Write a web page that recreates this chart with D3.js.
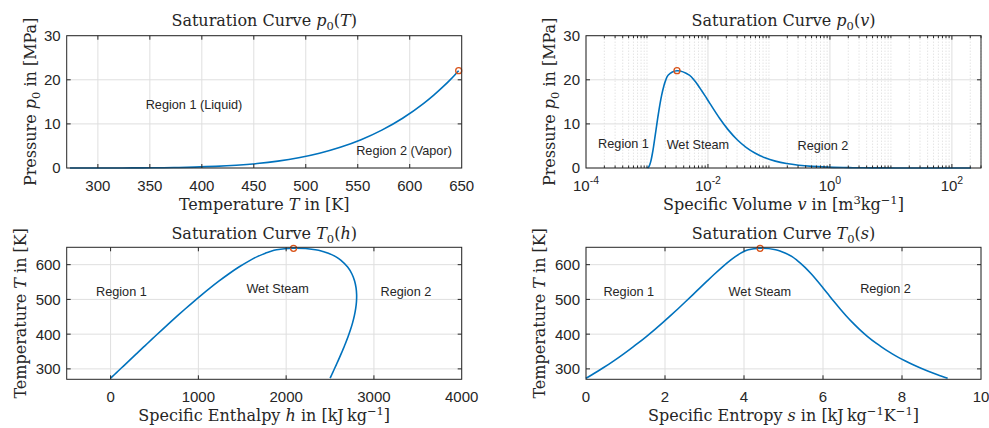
<!DOCTYPE html>
<html>
<head>
<meta charset="utf-8">
<script src="https://cdn.jsdelivr.net/npm/d3@7"></script>
<style>
  body { margin: 0; background: #fff; }
  svg text { fill: #262626; }
  .tick-label { font-family: "Liberation Sans", Arial, sans-serif; font-size: 15px; }
  .tex { font-family: "DejaVu Serif", "Liberation Serif", serif; font-size: 16px; }
  .note { font-family: "Liberation Sans", Arial, sans-serif; font-size: 12.7px; }
</style>
</head>
<body>
<div id="fig"></div>
<script>
// saturation line of water (steam tables), T in K
const satT = [273.16, 283.15, 293.15, 303.15, 313.15, 323.15, 333.15, 343.15, 353.15, 363.15,
  373.15, 393.15, 413.15, 433.15, 453.15, 473.15, 493.15, 513.15, 533.15, 553.15,
  573.15, 593.15, 613.15, 623.15, 633.15, 638.15, 643.15, 647.096];
// pressure in MPa
const satP = [0.000612, 0.001228, 0.002339, 0.004247, 0.007385, 0.012352, 0.019947, 0.031202, 0.047416, 0.070183,
  0.10142, 0.19867, 0.36153, 0.61823, 1.0028, 1.5549, 2.3196, 3.3469, 4.6923, 6.4166,
  8.5879, 11.284, 14.601, 16.529, 18.666, 19.822, 21.044, 22.064];
// specific volume, liquid / vapour, m3/kg
const satVf = [0.001000, 0.001000, 0.001002, 0.001004, 0.001008, 0.001012, 0.001017, 0.001023, 0.001029, 0.001036,
  0.001043, 0.001060, 0.001080, 0.001102, 0.001127, 0.001157, 0.001190, 0.001229, 0.001276, 0.001332,
  0.001404, 0.001499, 0.001638, 0.001741, 0.001895, 0.002016, 0.002217, 0.003106];
const satVg = [206.00, 106.32, 57.762, 32.879, 19.515, 12.026, 7.6670, 5.0396, 3.4053, 2.3593,
  1.6720, 0.89133, 0.50850, 0.30706, 0.19384, 0.12721, 0.08609, 0.05974, 0.04218, 0.03017,
  0.02167, 0.01549, 0.01080, 0.008806, 0.006950, 0.006009, 0.004953, 0.003106];
// specific enthalpy, kJ/kg
const satHf = [0.001, 42.02, 83.91, 125.74, 167.53, 209.34, 251.18, 293.07, 335.02, 377.04,
  419.17, 503.81, 589.16, 675.47, 763.05, 852.26, 943.55, 1037.5, 1134.8, 1236.7,
  1344.8, 1461.7, 1594.5, 1670.9, 1764.2, 1817.8, 1890.7, 2084.3];
const satHg = [2500.9, 2519.2, 2537.4, 2555.6, 2573.5, 2591.3, 2608.8, 2626.1, 2643.0, 2659.6,
  2675.6, 2706.0, 2733.5, 2757.5, 2777.2, 2792.0, 2801.1, 2803.0, 2796.6, 2779.9,
  2749.6, 2700.6, 2621.8, 2563.6, 2481.0, 2420.0, 2334.5, 2084.3];
// specific entropy, kJ/(kg K)
const satSf = [0.0000, 0.1511, 0.2965, 0.4368, 0.5724, 0.7038, 0.8313, 0.9551, 1.0756, 1.1929,
  1.3072, 1.5279, 1.7392, 1.9426, 2.1392, 2.3305, 2.5177, 2.7020, 2.8849, 3.0685,
  3.2552, 3.4494, 3.6601, 3.7800, 3.9167, 4.0014, 4.1112, 4.4070];
const satSg = [9.1556, 8.8999, 8.6661, 8.4520, 8.2556, 8.0748, 7.9082, 7.7540, 7.6111, 7.4781,
  7.3541, 7.1292, 6.9294, 6.7491, 6.5841, 6.4302, 6.2840, 6.1423, 6.0016, 5.8579,
  5.7059, 5.5372, 5.3356, 5.2177, 5.0536, 4.9412, 4.8012, 4.4070];

// tick values
const tempTicks = [300, 350, 400, 450, 500, 550, 600, 650];
const pressureTicks = [0, 10, 20, 30];
const volumeTicks = [1e-4, 1e-2, 1e0, 1e2];
const volumeTickExp = ["-4", "-2", "0", "2"];
const enthalpyTicks = [0, 1000, 2000, 3000, 4000];
const entropyTicks = [0, 2, 4, 6, 8, 10];
const tempTicksK = [300, 400, 500, 600];

// the curve: liquid branch up to the critical point, then vapour branch back down
const liqThenVap = (a, b) => a.concat(b.slice(0, -1).reverse());
const pTwice = liqThenVap(satP, satP);
const tTwice = liqThenVap(satT, satT);

const critIdx = satT.length - 1;

const BLUE = "#0072BD";
const ORANGE = "#D95319";
const INK = "#262626";

const svg = d3.select("#fig").append("svg").attr("width", 989).attr("height", 428);

class SatPlot {
  constructor(_config) {
    this.config = _config;
    this.initVis();
  }

  initVis() {
    let vis = this;
    const c = vis.config;
    vis.x = (c.xLog ? d3.scaleLog() : d3.scaleLinear()).domain(c.xDomain).range([c.left, c.left + c.width]);
    vis.y = d3.scaleLinear().domain(c.yDomain).range([c.top + c.height, c.top]);
    vis.g = svg.append("g");
    vis.drawGrid();
    vis.drawCurve();
    vis.drawBox();
    vis.drawText();
  }

  drawGrid() {
    let vis = this;
    const c = vis.config;
    const grid = vis.g.append("g");
    if (c.xMinor) {
      grid.selectAll(".minor-x").data(c.xMinor).join("line")
        .attr("x1", d => vis.x(d)).attr("x2", d => vis.x(d))
        .attr("y1", c.top).attr("y2", c.top + c.height)
        .attr("stroke", "#bdbdbd").attr("stroke-width", 0.6).attr("stroke-dasharray", "1,2");
    }
    grid.selectAll(".gx").data(c.xTicks).join("line")
      .attr("x1", d => vis.x(d)).attr("x2", d => vis.x(d))
      .attr("y1", c.top).attr("y2", c.top + c.height)
      .attr("stroke", "#dfdfdf").attr("stroke-width", 1);
    grid.selectAll(".gy").data(c.yTicks).join("line")
      .attr("x1", c.left).attr("x2", c.left + c.width)
      .attr("y1", d => vis.y(d)).attr("y2", d => vis.y(d))
      .attr("stroke", "#dfdfdf").attr("stroke-width", 1);
  }

  drawCurve() {
    let vis = this;
    const c = vis.config;
    const pts = c.xs.map((d, i) => [vis.x(d), vis.y(c.ys[i])]);
    const line = d3.line().curve(c.curve || d3.curveCatmullRom.alpha(0.5));
    vis.g.append("path")
      .attr("d", line(pts))
      .attr("fill", "none")
      .attr("stroke", BLUE)
      .attr("stroke-width", 1.6)
      .attr("stroke-linejoin", "round");
    vis.g.append("circle")
      .attr("cx", vis.x(c.crit[0]))
      .attr("cy", vis.y(c.crit[1]))
      .attr("r", 3)
      .attr("fill", "none")
      .attr("stroke", ORANGE)
      .attr("stroke-width", 1.3);
  }

  drawBox() {
    let vis = this;
    const c = vis.config;
    const b = vis.g.append("g");
    const x0 = c.left, x1 = c.left + c.width, y0 = c.top, y1 = c.top + c.height;
    const tl = 4, tm = 2.5;
    // tick marks pointing inwards on all four sides
    const xt = c.xTicks.filter(d => vis.x(d) > x0 + 0.5 && vis.x(d) < x1 - 0.5);
    const yt = c.yTicks.filter(d => vis.y(d) > y0 + 0.5 && vis.y(d) < y1 - 0.5);
    let path = "";
    xt.forEach(d => {
      const px = vis.x(d);
      path += `M${px},${y1}v${-tl}M${px},${y0}v${tl}`;
    });
    (c.xMinor || []).forEach(d => {
      const px = vis.x(d);
      path += `M${px},${y1}v${-tm}M${px},${y0}v${tm}`;
    });
    yt.forEach(d => {
      const py = vis.y(d);
      path += `M${x0},${py}h${tl}M${x1},${py}h${-tl}`;
    });
    b.append("path").attr("d", path).attr("stroke", INK).attr("stroke-width", 1).attr("fill", "none");
    b.append("rect")
      .attr("x", x0).attr("y", y0).attr("width", c.width).attr("height", c.height)
      .attr("fill", "none").attr("stroke", INK).attr("stroke-width", 1);

    // tick labels
    const xl = b.selectAll(".xl").data(c.xTicks).join("text")
      .attr("class", "tick-label")
      .attr("x", d => vis.x(d))
      .attr("y", y1 + 23)
      .attr("text-anchor", "middle");
    if (c.xExp) {
      xl.each(function (d, i) {
        const t = d3.select(this);
        t.append("tspan").text("10");
        t.append("tspan").attr("dy", -7).attr("font-size", "10.5px").text(c.xExp[i]);
      });
    } else {
      xl.text(d => d);
    }
    b.selectAll(".yl").data(c.yTicks).join("text")
      .attr("class", "tick-label")
      .attr("x", x0 - 6)
      .attr("y", d => vis.y(d))
      .attr("dy", "0.36em")
      .attr("text-anchor", "end")
      .text(d => d);
  }

  drawText() {
    let vis = this;
    const c = vis.config;
    const cx = c.left + c.width / 2;
    const cy = c.top + c.height / 2;
    richText(vis.g.append("text").attr("class", "tex").attr("x", cx).attr("y", c.top - c.titleGap)
      .attr("text-anchor", "middle"), c.title);
    richText(vis.g.append("text").attr("class", "tex").attr("x", cx).attr("y", c.top + c.height + 41.5)
      .attr("text-anchor", "middle"), c.xLabel);
    richText(vis.g.append("text").attr("class", "tex")
      .attr("transform", `translate(${c.left - c.yLabelGap},${cy}) rotate(-90)`)
      .attr("text-anchor", "middle"), c.yLabel);
    vis.g.selectAll(".note").data(c.notes).join("text")
      .attr("class", "note")
      .attr("x", d => vis.x(d[0]))
      .attr("y", d => vis.y(d[1]))
      .attr("dy", "0.35em")
      .text(d => d[2]);
  }
}

// parts: [string, kind] with kind "", "i", "sub" or "sup"
function richText(el, parts) {
  let shift = 0;
  parts.forEach(([str, kind]) => {
    const t = el.append("tspan").text(str);
    let target = 0;
    if (kind === "sub") target = 4;
    if (kind === "sup") target = -6;
    if (target !== shift) t.attr("dy", target - shift);
    shift = target;
    if (kind === "i") t.attr("font-style", "italic");
    if (kind === "sub" || kind === "sup") t.attr("font-size", "11.5px");
  });
}

const volumeMinor = [];
for (let k = -4; k <= 2; k++) {
  for (let m = 1; m <= 9; m++) {
    const v = m * Math.pow(10, k);
    if (v <= 300 && !volumeTicks.includes(v)) volumeMinor.push(v);
  }
}

const colL = 66.7, colR = 586, w = 395;
const rowT = 35.7, rowB = 247.3;

new SatPlot({
  left: colL, top: rowT, width: w, height: 132.3, titleGap: 10, yLabelGap: 31,
  xDomain: [270, 650], yDomain: [0, 30],
  xTicks: tempTicks, yTicks: pressureTicks,
  xs: satT, ys: satP, curve: d3.curveMonotoneX,
  crit: [satT[critIdx], satP[critIdx]],
  title: [["Saturation Curve ", ""], ["p", "i"], ["0", "sub"], ["(", ""], ["T", "i"], [")", ""]],
  xLabel: [["Temperature ", ""], ["T", "i"], [" in [K]", ""]],
  yLabel: [["Pressure ", ""], ["p", "i"], ["0", "sub"], [" in [MPa]", ""]],
  notes: [[346, 14.4, "Region 1 (Liquid)"], [548.5, 3.9, "Region 2 (Vapor)"]]
});

new SatPlot({
  left: colR, top: rowT, width: w, height: 132.3, titleGap: 10, yLabelGap: 31,
  xLog: true, xDomain: [1e-4, 300], yDomain: [0, 30],
  xTicks: volumeTicks, xExp: volumeTickExp, xMinor: volumeMinor, yTicks: pressureTicks,
  xs: liqThenVap(satVf, satVg), ys: pTwice,
  crit: [satVf[critIdx], satP[critIdx]],
  title: [["Saturation Curve ", ""], ["p", "i"], ["0", "sub"], ["(", ""], ["v", "i"], [")", ""]],
  xLabel: [["Specific Volume ", ""], ["v", "i"], [" in [m", ""], ["3", "sup"], ["kg", ""], ["\u22121", "sup"], ["]", ""]],
  yLabel: [["Pressure ", ""], ["p", "i"], ["0", "sub"], [" in [MPa]", ""]],
  notes: [[1.58e-4, 5.44, "Region 1"], [0.0021, 5.28, "Wet Steam"], [0.295, 5.2, "Region 2"]]
});

new SatPlot({
  left: colL, top: rowB, width: w, height: 132, titleGap: 8, yLabelGap: 41,
  xDomain: [-500, 4000], yDomain: [270, 650],
  xTicks: enthalpyTicks, yTicks: tempTicksK,
  xs: liqThenVap(satHf, satHg), ys: tTwice,
  crit: [satHf[critIdx], satT[critIdx]],
  title: [["Saturation Curve ", ""], ["T", "i"], ["0", "sub"], ["(", ""], ["h", "i"], [")", ""]],
  xLabel: [["Specific Enthalpy ", ""], ["h", "i"], [" in [kJ\u2009kg", ""], ["\u22121", "sup"], ["]", ""]],
  yLabel: [["Temperature ", ""], ["T", "i"], [" in [K]", ""]],
  notes: [[-166, 524, "Region 1"], [1547, 530, "Wet Steam"], [3075, 524, "Region 2"]]
});

new SatPlot({
  left: colR, top: rowB, width: w, height: 132, titleGap: 8, yLabelGap: 41,
  xDomain: [0, 10], yDomain: [270, 650],
  xTicks: entropyTicks, yTicks: tempTicksK,
  xs: liqThenVap(satSf, satSg), ys: tTwice,
  crit: [satSf[critIdx], satT[critIdx]],
  title: [["Saturation Curve ", ""], ["T", "i"], ["0", "sub"], ["(", ""], ["s", "i"], [")", ""]],
  xLabel: [["Specific Entropy ", ""], ["s", "i"], [" in [kJ\u2009kg", ""], ["\u22121", "sup"], ["K", ""], ["\u22121", "sup"], ["]", ""]],
  yLabel: [["Temperature ", ""], ["T", "i"], [" in [K]", ""]],
  notes: [[0.44, 522, "Region 1"], [3.61, 522, "Wet Steam"], [6.94, 532, "Region 2"]]
});
</script>
</body>
</html>
